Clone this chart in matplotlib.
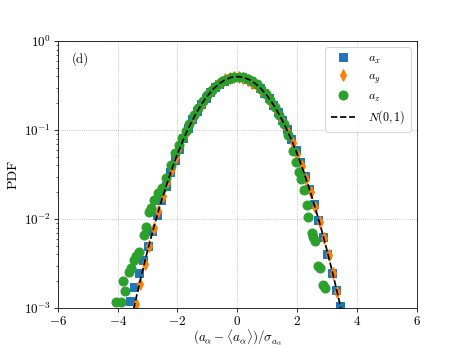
import matplotlib
matplotlib.use("Agg")
import matplotlib.pyplot as plt

plt.rcParams['font.family'] = 'serif'
plt.rcParams['font.serif'] = ['cmr10', 'DejaVu Serif']
plt.rcParams['mathtext.fontset'] = 'cm'
plt.rcParams['axes.formatter.use_mathtext'] = True

# a_x (blue squares)
ax_x = [-3.6, -3.45, -3.3, -3.15, -3.0, -2.85, -2.7, -2.55, -2.4, -2.25, -2.1, -1.95,
        -1.8, -1.65, -1.5, -1.35, -1.2, -1.05, -0.9, -0.75, -0.6, -0.45, -0.3, -0.15,
        0.0, 0.15, 0.3, 0.45, 0.6, 0.75, 0.9, 1.05, 1.2, 1.35, 1.5, 1.65, 1.8, 1.95,
        2.1, 2.25, 2.4, 2.55, 2.7, 2.85, 3.0, 3.15, 3.3, 3.45]
ax_y = [1.2e-3, 1.7e-3, 2.5e-3, 3.5e-3, 5.0e-3, 7.3e-3, 0.0110, 0.0162, 0.0235, 0.0335,
        0.0462, 0.0620, 0.0815, 0.1050, 0.1320, 0.1630, 0.1965, 0.2320, 0.2680, 0.3020,
        0.3330, 0.3590, 0.3790, 0.3910, 0.3950, 0.3900, 0.3770, 0.3560, 0.3290, 0.2970,
        0.2630, 0.2270, 0.1920, 0.1590, 0.1285, 0.1015, 0.0785, 0.0590, 0.0432, 0.0308,
        0.0215, 0.0146, 0.0097, 0.0063, 0.0040, 0.0025, 0.0016, 0.00105]

# a_y (orange diamonds)
ay_x = [-3.4, -3.25, -3.1, -2.95, -2.8, -2.65, -2.5, -2.35, -2.2, -2.05, -1.9, -1.75,
        -1.6, -1.45, -1.3, -1.15, -1.0, -0.85, -0.7, -0.55, -0.4, -0.25, -0.1, 0.05,
        0.2, 0.35, 0.5, 0.65, 0.8, 0.95, 1.1, 1.25, 1.4, 1.55, 1.7, 1.85, 2.0, 2.15,
        2.3, 2.45, 2.6, 2.75, 2.9, 3.05, 3.2, 3.35]
ay_y = [1.1e-3, 1.85e-3, 3.1e-3, 5.0e-3, 7.9e-3, 0.0122, 0.0180, 0.0260, 0.0365, 0.0500,
        0.0670, 0.0880, 0.1130, 0.1420, 0.1745, 0.2090, 0.2455, 0.2815, 0.3160, 0.3465,
        0.3710, 0.3890, 0.3990, 0.3960, 0.3840, 0.3640, 0.3400, 0.3100, 0.2790, 0.2450,
        0.2100, 0.1770, 0.1455, 0.1175, 0.0930, 0.0715, 0.0540, 0.0397, 0.0285, 0.0199,
        0.0137, 0.0093, 0.0061, 0.0039, 0.0025, 0.0015]

# a_z (green circles)
az_x = [-4.07, -3.9, -3.82, -3.76, -3.62, -3.57, -3.46, -3.4, -3.29, -3.12, -3.07, -2.96,
        -2.9, -2.79, -2.65, -2.51, -2.4, -2.23, -2.07, -1.95, -1.84, -1.72, -1.6, -1.45,
        -1.3, -1.15, -1.0, -0.85, -0.7, -0.55, -0.4, -0.25, -0.1, 0.05, 0.2, 0.35, 0.5,
        0.65, 0.8, 0.95, 1.1, 1.25, 1.4, 1.55, 1.7, 1.85, 1.95, 2.05, 2.12, 2.22, 2.33,
        2.38, 2.49, 2.54, 2.6, 2.71, 2.77, 2.88, 2.93]
az_y = [1.18e-3, 1.18e-3, 2.0e-3, 1.56e-3, 2.57e-3, 2.8e-3, 3.5e-3, 3.8e-3, 4.3e-3, 6.6e-3,
        8.2e-3, 0.0121, 0.0132, 0.0165, 0.0195, 0.0221, 0.0286, 0.0404, 0.0550, 0.0680,
        0.0807, 0.0980, 0.1180, 0.1460, 0.1780, 0.2120, 0.2480, 0.2830, 0.3160, 0.3450,
        0.3690, 0.3870, 0.3970, 0.3990, 0.3930, 0.3780, 0.3550, 0.3250, 0.2900, 0.2530,
        0.2160, 0.1800, 0.1470, 0.1180, 0.0880, 0.0580, 0.0440, 0.0340, 0.0280, 0.0212,
        0.0144, 0.0106, 6.9e-3, 6.3e-3, 5.6e-3, 3.0e-3, 2.8e-3, 1.82e-3, 1.66e-3]

# N(0,1) reference curve
n_x = [-3.6, -3.4, -3.2, -3.0, -2.8, -2.6, -2.4, -2.2, -2.0, -1.8, -1.6, -1.4, -1.2,
       -1.0, -0.8, -0.6, -0.4, -0.2, 0.0, 0.2, 0.4, 0.6, 0.8, 1.0, 1.2, 1.4, 1.6, 1.8,
       2.0, 2.2, 2.4, 2.6, 2.8, 3.0, 3.2, 3.4, 3.6]
n_y = [0.000612, 0.00123, 0.00238, 0.00443, 0.00792, 0.01358, 0.0224, 0.0355, 0.0540,
       0.0790, 0.1109, 0.1497, 0.1942, 0.2420, 0.2897, 0.3332, 0.3683, 0.3910, 0.3989,
       0.3910, 0.3683, 0.3332, 0.2897, 0.2420, 0.1942, 0.1497, 0.1109, 0.0790, 0.0540,
       0.0355, 0.0224, 0.01358, 0.00792, 0.00443, 0.00238, 0.00123, 0.000612]

fig, ax = plt.subplots(figsize=(6.4, 4.81), dpi=72.35)
fig.subplots_adjust(left=0.125, right=0.9, top=0.882, bottom=0.115)
ax.semilogy(ax_x, ax_y, 's', color='tab:blue', ms=8, label='$a_x$')
ax.semilogy(ay_x, ay_y, 'd', color='tab:orange', ms=8, label='$a_y$')
ax.semilogy(az_x, az_y, 'o', color='tab:green', ms=9, label='$a_z$')
ax.semilogy(n_x, n_y, '--', color='k', lw=1.7, label='$N(0,1)$')

ax.set_xlim(-6, 6)
ax.set_ylim(1e-3, 1)
ax.grid(True, which='major', linestyle=':', color='#b0b0b0', lw=0.8)
ax.set_xlabel(r'$(a_\alpha - \langle a_\alpha \rangle)/\sigma_{a_\alpha}$', fontsize=13, labelpad=-1)
ax.set_ylabel('PDF', fontsize=14)
ax.text(0.04, 0.92, '(d)', transform=ax.transAxes, fontsize=13)
ax.tick_params(labelsize=13)
ax.legend(loc='upper right', fontsize=12, labelspacing=0.4, handlelength=2.0,
          handletextpad=1.1, borderpad=0.45)

plt.savefig('out.png', dpi=72.35)
